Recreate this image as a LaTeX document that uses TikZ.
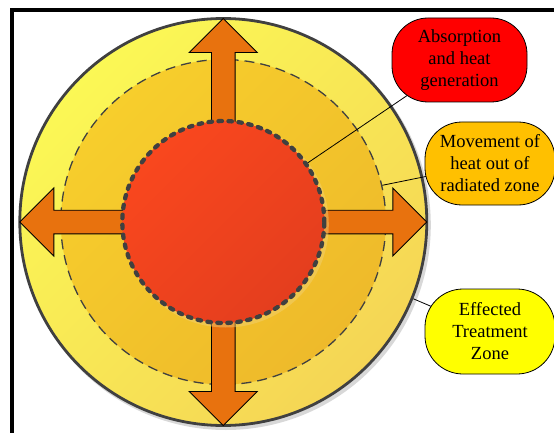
\documentclass[tikz,border=0pt]{standalone}
\usepackage{fontspec}
\setmainfont{Liberation Serif}
\newfontfamily\calfont{Liberation Serif}
\definecolor{ringgray}{HTML}{404040}
\definecolor{outerA}{HTML}{FBF855}
\definecolor{outerB}{HTML}{F5D555}
\definecolor{midA}{HTML}{F7CE2C}
\definecolor{midB}{HTML}{EEBA2B}
\definecolor{innA}{HTML}{F9471E}
\definecolor{innB}{HTML}{E43E1E}
\definecolor{arrowor}{HTML}{E8720E}
\definecolor{calred}{HTML}{FF0000}
\definecolor{calorange}{HTML}{FFC000}
\definecolor{calyellow}{HTML}{FFFF00}
\definecolor{shadowgray}{HTML}{D8D8D8}
\definecolor{innshadow}{HTML}{F2D27A}
\begin{document}
\begin{tikzpicture}[x=1pt,y=1pt,
  arrowbox/.style={fill=arrowor, draw=black, line width=0.9pt, line join=miter},
  callout/.style={draw=black, line width=0.8pt, align=center, inner sep=0pt,
    font=\calfont\fontsize{18.5}{22}\selectfont},
  leader/.style={draw=black, line width=0.8pt}]
\useasboundingbox (0,0) rectangle (554,-433);
\coordinate (c) at (223.3,-222);
% frame
\draw[line width=4pt, line join=miter] (12,-445) -- (12,-10.3) -- (565,-10.3);
% shadow of the outer circle
\fill[shadowgray] ([shift={(2.5,-3)}]c) circle (205);
% outer ring
\node[circle, inner sep=0pt, minimum size=407pt, draw=ringgray, line width=2.8pt,
  top color=outerA, bottom color=outerB, shading angle=45] (outer) at (c) {};
% middle zone
\node[circle, inner sep=0pt, minimum size=325pt, draw=ringgray, line width=1.3pt,
  dash pattern=on 10pt off 6pt,
  top color=midA, bottom color=midB, shading angle=45] (middle) at (c) {};
% arrows
\foreach \a in {0,90,180,270}{
  \begin{scope}[shift={(223.3,-222)}, rotate=\a]
    \draw[arrowbox] (90,11.8) -- (169.5,11.8) -- (169.5,34) -- (203.5,0)
      -- (169.5,-34) -- (169.5,-11.8) -- (90,-11.8) -- cycle;
  \end{scope}
}
% inner shadow
\fill[innshadow, opacity=0.45] ([shift={(2.5,-2.5)}]c) circle (103);
% inner zone
\node[circle, inner sep=0pt, minimum size=202pt, draw=ringgray, line width=4.3pt,
  dash pattern=on 3.5pt off 6.5pt, line cap=round,
  top color=innA, bottom color=innB, shading angle=45] (inner) at (c) {};
% callouts
\coordinate (absorbpos) at (459.5,-60);
\coordinate (movepos) at (490,-163.5);
\coordinate (zonepos) at (490,-331.5);
\draw[leader] (inner.35) -- (absorbpos);
\draw[leader] (middle.13) -- (movepos);
\draw[leader] (outer.-22) -- (zonepos);
\node[callout, fill=calred, minimum width=135pt, minimum height=84pt,
  rounded corners=36pt] (absorb) at (absorbpos) {Absorption\\and heat\\generation};
\node[callout, fill=calorange, minimum width=130pt, minimum height=83pt,
  rounded corners=37pt] (move) at (movepos) {Movement of\\heat out of\\radiated zone};
\node[callout, fill=calyellow, minimum width=130pt, minimum height=85pt,
  rounded corners=38pt] (zone) at (zonepos) {Effected\\Treatment\\Zone};
\end{tikzpicture}
\end{document}
